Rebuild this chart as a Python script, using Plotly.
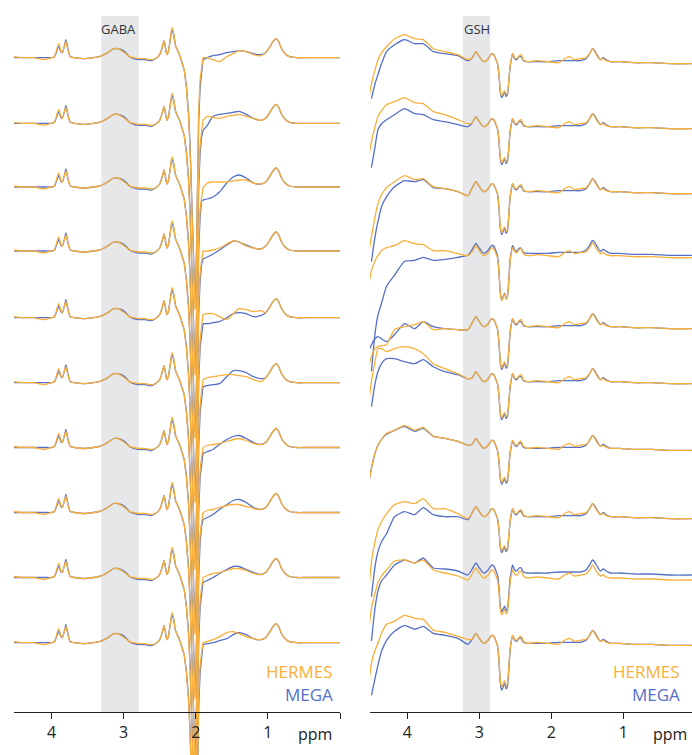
import plotly.graph_objects as go

ORANGE = "#F9AF3A"
BLUE = "#5470C8"

# ---------------- Left panel (GABA) : values relative to each row's baseline ----------------
L_LEAD_PPM = [4.52, 4.40, 4.25, 4.10, 4.00, 3.96, 3.92, 3.90, 3.87, 3.85, 3.82, 3.80, 3.77, 3.74,
              3.68, 3.55, 3.42, 3.34, 3.27, 3.20, 3.14, 3.08, 3.03, 2.97, 2.92, 2.86, 2.78, 2.70,
              2.62, 2.56, 2.50, 2.47, 2.44, 2.42, 2.40, 2.38, 2.35, 2.33, 2.31, 2.28, 2.25, 2.22]
L_LEAD_MEGA = [0, 0, 0, 0, 0, 1, 8, 12, 6, 5, 12, 18, 8, 1,
               0, -1, 0, 1, 3, 6, 9, 9, 8, 5, 1, -1, -2, -2,
               -3, -1, 3, 9, 17, 10, 3, 6, 20, 28, 24, 12, 7, 2]
L_LEAD_HERMES = [1, 0, 0, -2, 0, 1, 10, 14, 7, 5, 12, 16, 7, 1,
                 0, -1, 0, 1, 3, 6, 9, 9, 7, 4, 1, 0, -1, -1,
                 -2, -1, 3, 9, 17, 10, 3, 6, 20, 30, 26, 12, 7, 2]

L_DIP_PPM = [2.19, 2.16, 2.13, 2.10, 2.08, 2.06, 2.04, 2.02, 2.01, 2.00, 1.99, 1.98, 1.97, 1.96, 1.94, 1.92]
L_DIP_MEGA = [-4, -12, -28, -55, -85, -130, -190, -238, -245, -238, -200, -150, -100, -65, -30, -14]
L_DIP_HERMES = [-4, -12, -30, -58, -90, -138, -198, -245, -252, -245, -205, -150, -95, -55, -22, -8]

L_MM_PPM = [1.90, 1.84, 1.76, 1.67, 1.57, 1.48, 1.40, 1.30, 1.20, 1.10]
L_MM_MEGA = [
    [-2, 0, 2, 3, 5, 6, 7, 6, 4, 3],
    [-7, -2, 7, 9, 10, 11, 12, 9, 5, 3],
    [-13, -12, -10, -5, 4, 10, 12, 9, 4, 3],
    [-8, -6, -3, 1, 6, 10, 9, 6, 3, 2],
    [-6, -6, -5, -4, 0, 4, 5, 4, 1, 2],
    [-4, -3, -2, -1, 6, 12, 12, 10, 6, 4],
    [-6, -4, -2, 3, 8, 11, 12, 9, 5, 3],
    [-7, -5, -2, 3, 8, 12, 13, 10, 5, 3],
    [-5, -3, 0, 4, 8, 11, 11, 8, 5, 3],
    [-2, -1, 0, 2, 4, 8, 10, 8, 4, 3],
]
L_MM_HERMES = [
    [0, 0, -2, -4, 1, 4, 7, 6, 3, 2],
    [3, 7, 6, 5, 7, 8, 9, 7, 5, 3],
    [-1, 4, 5, 5, 5, 6, 7, 7, 4, 3],
    [0, 0, 1, 3, 7, 10, 9, 5, 3, 2],
    [3, 4, 4, 1, -2, 4, 9, 8, 6, 7],
    [3, 5, 6, 7, 8, 8, 7, 6, 3, 1],
    [0, 2, 3, 4, 6, 8, 9, 7, 4, 3],
    [0, 2, 3, 5, 7, 8, 8, 6, 4, 3],
    [0, 2, 4, 5, 7, 9, 9, 7, 4, 3],
    [0, 1, 3, 6, 10, 11, 9, 6, 4, 3],
]

L_TAIL_PPM = [1.03, 0.98, 0.93, 0.88, 0.85, 0.81, 0.76, 0.70, 0.60, 0.45, 0.30, 0.15, 0.00]
L_TAIL_MEGA = [5, 10, 16, 19, 16, 9, 4, 1, 0, 0, 0, 0, 0]
L_TAIL_HERMES = [5, 10, 16, 19, 16, 9, 4, 1, 0, 0, 0, 0, 0]

# baseline level of each row (data units, bottom = 0)
L_OFFSETS = [697.3, 631.7, 568.0, 504.0, 437.3, 372.3, 307.5, 242.5, 177.5, 112.3]

# ---------------- Right panel (GSH) ----------------
R_LEAD_PPM = [4.54, 4.50, 4.45, 4.41, 4.36, 4.29, 4.18, 4.04, 3.90, 3.78, 3.64, 3.48, 3.30, 3.16]
R_LEAD_HERMES = [
    [-38, -22, -8, 2, 9, 15, 23, 27, 23, 22, 13, 10, 7, 2],
    [-31, -15, 0, 10, 16, 22, 25, 29, 24, 23, 15, 12, 7, 3],
    [-62, -45, -25, -12, -3, 4, 10, 16, 12, 13, 5, 3, 0, -4],
    [-30, -15, -5, 0, 5, 8, 10, 15, 12, 11, 5, 5, 2, 0],
    [-40, -30, -22, -20, -19, -18, -3, 0, 2, 5, -3, -2, -3, -3],
    [-23, 0, 20, 33, 33, 30, 33, 35, 33, 28, 18, 13, 8, 3],
    [-35, -20, -5, 3, 9, 15, 18, 23, 18, 21, 12, 10, 7, 3],
    [-77, -45, -25, -13, -5, 3, 12, 15, 13, 18, 8, 8, 3, -2],
    [-55, -30, -15, -5, 2, 8, 17, 18, 15, 18, 8, 5, 2, -2],
    [-42, -20, -7, 0, 10, 19, 22, 28, 25, 24, 13, 11, 7, 4],
]
R_LEAD_MEGA = [
    [None, -37, -22, -13, -2, 10, 17, 22, 18, 18, 10, 8, 6, 1],
    [None, -41, -20, -3, 3, 7, 12, 18, 13, 12, 7, 5, 2, 0],
    [None, -70, -45, -30, -15, -5, 5, 11, 10, 12, 4, 3, 0, -4],
    [None, -118, -80, -62, -50, -33, -22, -8, -7, -4, -7, -6, -4, -2],
    [-25, -18, -12, -10, -12, -15, -8, 3, -2, 5, 0, -2, -3, -3],
    [None, -25, -2, 10, 18, 23, 23, 20, 18, 22, 15, 10, 7, 3],
    [-35, -20, -5, 3, 9, 14, 18, 22, 17, 20, 12, 10, 7, 3],
    [None, -80, -50, -35, -25, -17, 0, 5, 2, 9, 2, 0, 0, -3],
    [None, -68, -35, -18, -8, -2, 8, 13, 10, 15, 5, 4, 2, -2],
    [None, -52, -35, -22, -8, 3, 12, 18, 14, 17, 10, 8, 5, -1],
]

R_GSH_PPM = [3.10, 3.05, 3.01, 2.96, 2.93, 2.88, 2.83, 2.80, 2.77]
R_GSH_MEGA = [4, 10, 6, 1, 0, 3, 8, 7, 2]
R_GSH_HERMES = [4, 10, 6, 1, 0, 3, 8, 7, 2]

R_DIP_PPM = [2.75, 2.73, 2.71, 2.69, 2.67, 2.65, 2.63, 2.61, 2.59, 2.575]
R_DIP_SHAPE = [-0.05, -0.35, -0.85, -1.0, -0.92, -0.85, -0.97, -0.9, -0.5, -0.15]
R_DIP_DEPTH_MEGA = [36, 38, 43, 47, 43, 38, 36, 36, 39, 47]
R_DIP_DEPTH_HERMES = [34, 36, 41, 45, 41, 36, 34, 34, 37, 44]

R_POST_PPM = [2.555, 2.54, 2.51, 2.48, 2.45, 2.42, 2.39, 2.33, 2.20, 2.05, 1.90, 1.82, 1.75,
              1.68, 1.60, 1.52, 1.47, 1.43, 1.40, 1.36, 1.32, 1.28, 1.24, 1.18, 1.05, 0.85,
              0.60, 0.35, 0.05]
R_POST_MEGA = [3, 8, 3, 2, 5, 5, 1, 0, 0, 0, 1, 1, 1,
               1, 1, 3, 8, 13, 11, 6, 2, 4, 2, 0, 0, -1,
               -1, -2, -2]
R_POST_HERMES = [4, 8, 4, 3, 6, 7, 2, 0, 1, 0, -1, 3, 5,
                 2, 3, 4, 8, 13, 10, 5, 2, 3, 1, 0, 0, -1,
                 -1, -2, -2]

R_OFFSETS_MEGA = [693.3, 628.3, 563.3, 501.7, 428.3, 373.3, 306.7, 238.3, 182.0, 111.7]
R_OFFSETS_HERMES = [693.3, 628.3, 563.3, 499.3, 428.3, 373.3, 306.7, 238.3, 177.0, 111.7]

TICK_VALS = [4, 3, 2, 1, 0]
TICK_TEXT = ["4", "3", "2", "1", ""]

fig = go.Figure()


def seg(x, y, col, xa, ya, shape):
    line = dict(color=col, width=1.3, shape=shape)
    if shape == "spline":
        line["smoothing"] = 0.5
    return go.Scatter(x=x, y=y, mode="lines", xaxis=xa, yaxis=ya, line=line,
                      showlegend=False, hoverinfo="skip", connectgaps=False)


def left_traces(i, method):
    if method == "MEGA":
        lead, dip, mm, tail, col = L_LEAD_MEGA, L_DIP_MEGA, L_MM_MEGA[i], L_TAIL_MEGA, BLUE
    else:
        lead, dip, mm, tail, col = L_LEAD_HERMES, L_DIP_HERMES, L_MM_HERMES[i], L_TAIL_HERMES, ORANGE
    off = L_OFFSETS[i]
    t1 = seg(L_LEAD_PPM, [off + v for v in lead], col, "x", "y", "spline")
    dx = [L_LEAD_PPM[-1]] + L_DIP_PPM + [L_MM_PPM[0]]
    dy = [off + v for v in [lead[-1]] + dip + [mm[0]]]
    t2 = seg(dx, dy, col, "x", "y", "linear")
    t3 = seg(L_MM_PPM + L_TAIL_PPM, [off + v for v in mm + tail], col, "x", "y", "spline")
    return [t1, t2, t3]


def right_traces(i, method):
    if method == "MEGA":
        lead, gsh, depth, post, off, col = (R_LEAD_MEGA[i], R_GSH_MEGA, R_DIP_DEPTH_MEGA[i],
                                            R_POST_MEGA, R_OFFSETS_MEGA[i], BLUE)
    else:
        lead, gsh, depth, post, off, col = (R_LEAD_HERMES[i], R_GSH_HERMES, R_DIP_DEPTH_HERMES[i],
                                            R_POST_HERMES, R_OFFSETS_HERMES[i], ORANGE)
    dip = [f * depth for f in R_DIP_SHAPE]
    ppm = R_LEAD_PPM + R_GSH_PPM + R_DIP_PPM + R_POST_PPM
    vals = lead + gsh + dip + post
    y = [None if v is None else off + v for v in vals]
    return [seg(ppm, y, col, "x2", "y2", "spline")]


for method in ["MEGA", "HERMES"]:
    for i in range(10):
        for t in left_traces(i, method) + right_traces(i, method):
            fig.add_trace(t)

W, H = 692, 755
axis_common = dict(showgrid=False, zeroline=False, showline=True, linecolor="#222",
                   linewidth=1, ticks="outside", ticklen=6, tickcolor="#222",
                   tickvals=TICK_VALS, ticktext=TICK_TEXT,
                   tickfont=dict(family="Open Sans", size=16, color="#222"),
                   anchor="free", position=43 / H, fixedrange=True)

fig.update_layout(
    width=W, height=H, margin=dict(l=0, r=0, t=0, b=0),
    paper_bgcolor="white", plot_bgcolor="white",
    xaxis=dict(domain=[14 / W, 340 / W], range=[4.52, 0.0], **axis_common),
    xaxis2=dict(domain=[370 / W, 1.0], range=[4.52, 0.048], **axis_common),
    yaxis=dict(domain=[0, 1], range=[0, H], visible=False, fixedrange=True),
    yaxis2=dict(domain=[0, 1], range=[0, H], visible=False, fixedrange=True, anchor="x2"),
    shapes=[
        dict(type="rect", xref="x", yref="y", x0=3.31, x1=2.79, y0=43, y1=739,
             fillcolor="#E6E7E8", line=dict(width=0), layer="below"),
        dict(type="rect", xref="x2", yref="y2", x0=3.23, x1=2.85, y0=43, y1=739,
             fillcolor="#E6E7E8", line=dict(width=0), layer="below"),
    ],
)

ann_font = dict(family="Open Sans", size=13, color="#333")
fig.add_annotation(x=3.065, y=726, xref="x", yref="y", text="GABA", showarrow=False, font=ann_font)
fig.add_annotation(x=3.04, y=726, xref="x2", yref="y2", text="GSH", showarrow=False, font=ann_font)
leg_font = 17
for xr, yr, xv in [("x", "y", 0.065), ("x2", "y2", 0.19)]:
    fig.add_annotation(x=xv, y=84, xref=xr, yref=yr, text="HERMES", showarrow=False,
                       xanchor="right", font=dict(family="Open Sans", size=leg_font, color=ORANGE))
    fig.add_annotation(x=xv, y=61, xref=xr, yref=yr, text="MEGA", showarrow=False,
                       xanchor="right", font=dict(family="Open Sans", size=leg_font, color=BLUE))
fig.add_annotation(x=0.34, y=21, xref="x", yref="y", text="ppm", showarrow=False,
                   font=dict(family="Open Sans", size=16, color="#222"))
fig.add_annotation(x=0.36, y=21, xref="x2", yref="y2", text="ppm", showarrow=False,
                   font=dict(family="Open Sans", size=16, color="#222"))

fig.write_html("out.html", config={"displayModeBar": False},
               post_script="document.body.style.margin='0';document.body.style.overflow='hidden';")
